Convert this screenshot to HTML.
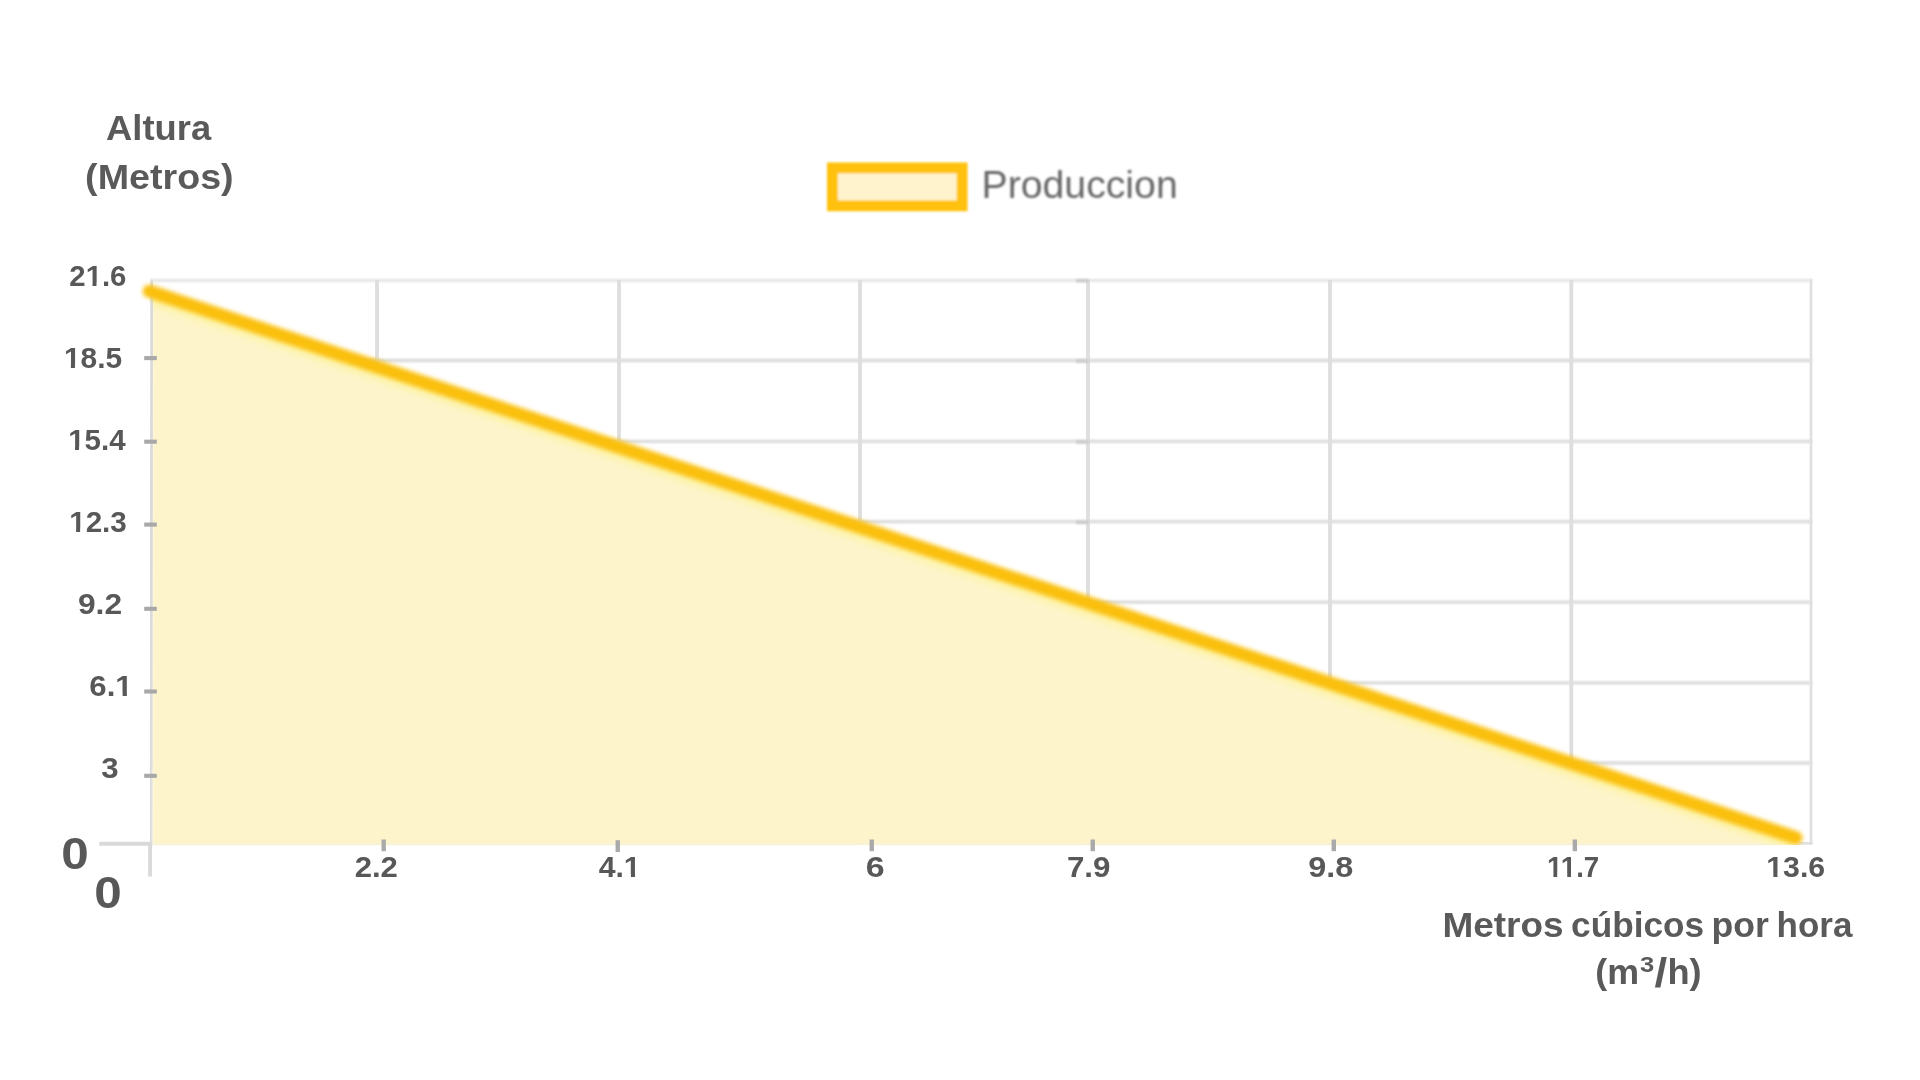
<!DOCTYPE html>
<html lang="es">
<head>
<meta charset="utf-8">
<title>Produccion</title>
<style>
  html, body { margin: 0; padding: 0; background: #ffffff; }
  body { width: 1920px; height: 1080px; overflow: hidden; position: relative;
         font-family: "Liberation Sans", sans-serif; }
  svg { position: absolute; left: 0; top: 0; display: block; }
  text { font-family: "Liberation Sans", sans-serif; }
</style>
</head>
<body>
<svg width="1920" height="1080" viewBox="0 0 1920 1080">
  <defs>
    <filter id="softv" x="-1%" y="-1%" width="102%" height="102%"><feGaussianBlur stdDeviation="0.7"/></filter>
    <filter id="softh" x="-1%" y="-1%" width="102%" height="102%"><feGaussianBlur stdDeviation="1.1"/></filter>
    <filter id="soft" x="-2%" y="-2%" width="104%" height="104%"><feGaussianBlur stdDeviation="0.8"/></filter>
    <filter id="softl" x="-2%" y="-5%" width="104%" height="110%"><feGaussianBlur stdDeviation="2.2"/></filter>
    <filter id="softf" x="-2%" y="-2%" width="104%" height="104%"><feGaussianBlur stdDeviation="1.2"/></filter>
    <filter id="halo" x="-2%" y="-5%" width="104%" height="110%"><feGaussianBlur stdDeviation="3"/></filter>
    <filter id="soft2" x="-5%" y="-20%" width="110%" height="140%"><feGaussianBlur stdDeviation="0.9"/></filter>
    <filter id="txt" x="-5%" y="-20%" width="110%" height="140%"><feGaussianBlur stdDeviation="0.35"/></filter>
    <clipPath id="lineclip"><rect x="0" y="0" width="1920" height="844.9"/></clipPath>
    <clipPath id="areaclip"><polygon points="153,291 1797,837.5 1797,845 153,845"/></clipPath>
  </defs>

  <!-- grid -->
  <g id="grid">
    <g filter="url(#softh)" stroke="#dbdbdb" stroke-width="3.4">
    <line x1="153" y1="280.4" x2="1812.4" y2="280.4" stroke="#e2e2e2" stroke-width="2.8"/>
    <line x1="153" y1="360.45" x2="1812" y2="360.45"/>
    <line x1="153" y1="441.4" x2="1812" y2="441.4"/>
    <line x1="153" y1="521.6" x2="1812" y2="521.6"/>
    <line x1="153" y1="602.1" x2="1812" y2="602.1"/>
    <line x1="153" y1="682.9" x2="1812" y2="682.9"/>
    <line x1="153" y1="763.0" x2="1812" y2="763.0"/>
    </g>
    <g filter="url(#softv)" stroke="#dedede" stroke-width="3.8">
    <line x1="377.0" y1="280" x2="377.0" y2="844"/>
    <line x1="619.0" y1="280" x2="619.0" y2="844"/>
    <line x1="860.0" y1="280" x2="860.0" y2="844"/>
    <line x1="1088.0" y1="280" x2="1088.0" y2="844"/>
    <line x1="1330.0" y1="280" x2="1330.0" y2="844"/>
    <line x1="1571.3" y1="280" x2="1571.3" y2="844"/>
    <line x1="1811.0" y1="279.2" x2="1811.0" y2="844.5" stroke="#e0e0e0" stroke-width="2.8"/>
    </g>
  </g>

  <!-- bottom axis (right of line end / faint under fill) -->
  <g filter="url(#soft)">
    <line x1="152" y1="844.6" x2="1800" y2="844.6" stroke="#e6e6e6" stroke-width="2.4"/>
    <line x1="1798" y1="842.9" x2="1812.4" y2="842.9" stroke="#d9d9d9" stroke-width="3.3"/>
  </g>

  <!-- area fill -->
  <polygon points="152.6,291 1797,837.5 1800,844.6 152.6,844.6" fill="#fdf4cb" filter="url(#softf)"/>
  <g clip-path="url(#areaclip)">
    <line x1="149.5" y1="298" x2="1795.8" y2="844.5" stroke="#fdf39a" stroke-opacity="0.75" stroke-width="13" filter="url(#halo)"/>
  </g>

  <!-- axes -->
  <g filter="url(#soft)">
    <line x1="152" y1="279.2" x2="150.1" y2="846" stroke="#d6d6d6" stroke-width="3.9"/>
  </g>
  <g filter="url(#txt)">
    <line x1="150.05" y1="842" x2="150.05" y2="876.6" stroke="#dadada" stroke-width="3.9"/>
    <line x1="99.2" y1="843.8" x2="152" y2="843.8" stroke="#d9d9d9" stroke-width="4"/>
  </g>

  <!-- data line -->
  <g clip-path="url(#lineclip)">
    <line x1="149.4" y1="291.3" x2="1795.8" y2="837.7" stroke="#fac00a" stroke-width="13.3" stroke-linecap="round" filter="url(#softl)"/>
  </g>

  <!-- ticks -->
  <g stroke="#a8a8a8" stroke-width="4.1" filter="url(#txt)">
    <line x1="144.2" y1="358.1" x2="156.8" y2="358.1"/>
    <line x1="144.2" y1="441.7" x2="156.8" y2="441.7"/>
    <line x1="144.2" y1="524.6" x2="156.8" y2="524.6"/>
    <line x1="144.2" y1="608.8" x2="156.8" y2="608.8"/>
    <line x1="144.2" y1="691.5" x2="156.8" y2="691.5"/>
    <line x1="144.2" y1="775.8" x2="156.8" y2="775.8"/>
  </g>
  <g stroke="#aaaaaa" stroke-width="4.4" filter="url(#txt)">
    <line x1="383.7" y1="839.5" x2="383.7" y2="851.2"/>
    <line x1="617.75" y1="840.2" x2="617.75" y2="852.0"/>
    <line x1="871.75" y1="839.5" x2="871.75" y2="851.2"/>
    <line x1="1092.75" y1="839.5" x2="1092.75" y2="851.2"/>
    <line x1="1333.8" y1="839.5" x2="1333.8" y2="851.2"/>
    <line x1="1574.85" y1="839.5" x2="1574.85" y2="851.2"/>
  </g>

  <!-- small darker marks on gridlines near x=1088 -->
  <g stroke="#c9c9c9" stroke-width="3" filter="url(#soft)">
    <line x1="1076" y1="280.7" x2="1089" y2="280.7"/>
    <line x1="1076" y1="361" x2="1089" y2="361"/>
    <line x1="1076" y1="442" x2="1089" y2="442"/>
    <line x1="1076" y1="522.3" x2="1089" y2="522.3"/>
  </g>

  <!-- text -->
  <g filter="url(#txt)">
  <g transform="translate(69.32,286.03) scale(1.0255,1)"><text font-size="28.63" font-weight="bold" fill="#595959">21.6</text><rect x="15.78" y="-3.26" width="6.81" height="4.12" fill="#fff"/><rect x="26.50" y="-3.26" width="6.17" height="4.12" fill="#fff"/></g>
  <g transform="translate(63.91,368.18) scale(1.0440,1)"><text font-size="28.63" font-weight="bold" fill="#595959">18.5</text><rect x="-0.14" y="-3.26" width="6.81" height="4.12" fill="#fff"/><rect x="10.58" y="-3.26" width="6.17" height="4.12" fill="#fff"/></g>
  <g transform="translate(68.13,449.88) scale(1.0310,1)"><text font-size="28.63" font-weight="bold" fill="#595959">15.4</text><rect x="-0.14" y="-3.26" width="6.81" height="4.12" fill="#fff"/><rect x="10.58" y="-3.26" width="6.17" height="4.12" fill="#fff"/></g>
  <g transform="translate(69.17,531.98) scale(1.0354,1)"><text font-size="28.63" font-weight="bold" fill="#595959">12.3</text><rect x="-0.14" y="-3.26" width="6.81" height="4.12" fill="#fff"/><rect x="10.58" y="-3.26" width="6.17" height="4.12" fill="#fff"/></g>
  <text transform="translate(77.93,614.18) scale(1.1091,1)" font-size="28.63" font-weight="bold" fill="#595959">9.2</text>
  <g transform="translate(89.35,696.00) scale(1.0896,1)"><text font-size="28.63" font-weight="bold" fill="#595959">6.1</text><rect x="23.73" y="-3.26" width="6.81" height="4.12" fill="#fff"/><rect x="34.46" y="-3.26" width="6.17" height="4.12" fill="#fff"/></g>
  <text transform="translate(101.28,778.08) scale(1.0897,1)" font-size="28.63" font-weight="bold" fill="#595959">3</text>
  <text transform="translate(61.15,868.64) scale(1.1090,1)" font-size="44.60" font-weight="bold" fill="#595959">0</text>
  <text transform="translate(94.35,908.19) scale(1.1090,1)" font-size="44.60" font-weight="bold" fill="#595959">0</text>
  <text transform="translate(354.67,877.12) scale(1.0875,1)" font-size="28.63" font-weight="bold" fill="#595959">2.2</text>
  <g transform="translate(598.64,876.98) scale(1.0566,1)"><text font-size="28.63" font-weight="bold" fill="#595959">4.1</text><rect x="23.73" y="-3.26" width="6.81" height="4.12" fill="#fff"/><rect x="34.46" y="-3.26" width="6.17" height="4.12" fill="#fff"/></g>
  <text transform="translate(865.64,876.98) scale(1.1860,1)" font-size="28.63" font-weight="bold" fill="#595959">6</text>
  <text transform="translate(1066.95,876.98) scale(1.0944,1)" font-size="28.63" font-weight="bold" fill="#595959">7.9</text>
  <text transform="translate(1308.30,876.98) scale(1.1325,1)" font-size="28.63" font-weight="bold" fill="#595959">9.8</text>
  <g transform="translate(1546.97,876.98) scale(0.9654,1)"><text font-size="28.63" font-weight="bold" fill="#595959">11.7</text><rect x="-0.14" y="-3.26" width="6.81" height="4.12" fill="#fff"/><rect x="10.58" y="-3.26" width="6.17" height="4.12" fill="#fff"/><rect x="14.20" y="-3.26" width="6.81" height="4.12" fill="#fff"/><rect x="24.92" y="-3.26" width="6.17" height="4.12" fill="#fff"/></g>
  <g transform="translate(1766.28,876.98) scale(1.0573,1)"><text font-size="28.63" font-weight="bold" fill="#595959">13.6</text><rect x="-0.14" y="-3.26" width="6.81" height="4.12" fill="#fff"/><rect x="10.58" y="-3.26" width="6.17" height="4.12" fill="#fff"/></g>
  <text transform="translate(106.11,139.90) scale(1.0390,1)" font-size="35.00" font-weight="bold" fill="#5a5a5a">Altura</text>
  <text transform="translate(85.12,188.70) scale(1.0761,1)" font-size="35.00" font-weight="bold" fill="#5a5a5a">(Metros)</text>
  <text transform="translate(1442.41,936.60) scale(1.0690,1)" font-size="34.60" font-weight="bold" fill="#5a5a5a">Metros</text>
  <text transform="translate(1571.09,936.60) scale(1.0186,1)" font-size="34.60" font-weight="bold" fill="#5a5a5a">cúbicos</text>
  <text transform="translate(1711.51,936.60) scale(1.0295,1)" font-size="34.60" font-weight="bold" fill="#5a5a5a">por</text>
  <text transform="translate(1776.55,936.60) scale(1.0116,1)" font-size="34.60" font-weight="bold" fill="#5a5a5a">hora</text>
  <text transform="translate(1595.31,983.60) scale(1.0454,1)" font-size="34.30" font-weight="bold" fill="#5a5a5a">(m</text>
  <text transform="translate(1639.99,971.97) scale(1.1151,1)" font-size="22.96" font-weight="bold" fill="#5a5a5a">3</text>
  <text transform="translate(1654.54,987.40) scale(1.1366,1)" font-size="40.27" font-weight="bold" fill="#5a5a5a">/</text>
  <text transform="translate(1667.46,983.60) scale(1.0560,1)" font-size="34.30" font-weight="bold" fill="#5a5a5a">h)</text>
  <text transform="translate(981.56,198.01) scale(1.0112,1)" font-size="38.78" fill="#666666" filter="url(#soft2)">Produccion</text>
  </g>

  <!-- legend box -->
  <g filter="url(#soft2)">
    <rect x="832.4" y="167.9" width="129.7" height="37.95" fill="#fef3cd" stroke="#ffc107" stroke-width="10.8"/>
  </g>
</svg>
</body>
</html>
